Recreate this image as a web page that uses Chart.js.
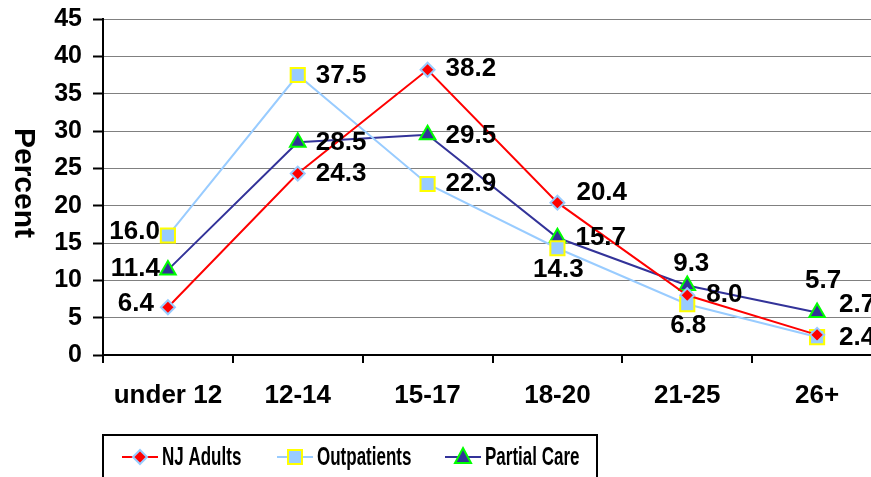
<!DOCTYPE html>
<html lang="en">
<head>
<meta charset="UTF-8">
<title>Percent by age group</title>
<style>
  html, body { margin: 0; padding: 0; overflow: hidden; background: #fff; }
</style>
</head>
<body>
<canvas id="myChart" width="894" height="500"></canvas>

<script src="https://cdn.jsdelivr.net/npm/chart.js@4/dist/chart.umd.min.js"></script>
<script>
  const ageGroups = ["under 12", "12-14", "15-17", "18-20", "21-25", "26+"];
  const njAdults = [6.4, 24.3, 38.2, 20.4, 8.0, 2.7];
  const outpatients = [16.0, 37.5, 22.9, 14.3, 6.8, 2.4];
  const partialCare = [11.4, 28.5, 29.5, 15.7, 9.3, 5.7];
  const yMin = 0, yMax = 45, yStep = 5;
  const yTitle = "Percent";

  const FONT = "'Liberation Sans', Arial, sans-serif";

  // where each value label sits relative to its point: [dx, dy, align]
  const labelPlace = [
    [[-14, -3, "right"], [18, 0, "left"], [18, -1, "left"], [19, -10, "left"], [19, 0, "left"], [22, -30, "left"]],
    [[-8, -4, "right"], [18, 1, "left"], [18, 0, "left"], [1, 22, "center"], [1, 22, "center"], [22, 1, "left"]],
    [[-8, -1, "right"], [18, 1, "left"], [18, 1, "left"], [18, 0, "left"], [4, -22, "center"], [6, -32, "center"]]
  ];

  const valueLabels = {
    id: "valueLabels",
    afterDatasetsDraw(chart) {
      const ctx = chart.ctx;
      ctx.save();
      ctx.font = "bold 26px " + FONT;
      ctx.fillStyle = "#000";
      ctx.textBaseline = "middle";
      chart.data.datasets.forEach((ds, i) => {
        const meta = chart.getDatasetMeta(i);
        meta.data.forEach((pt, j) => {
          const p = labelPlace[i][j];
          ctx.textAlign = p[2];
          ctx.fillText(ds.data[j].toFixed(1), pt.x + p[0], pt.y + p[1]);
        });
      });
      ctx.restore();
    }
  };

  function marker(ctx, ds, x, y) {
    ctx.save();
    ctx.fillStyle = ds.pointBackgroundColor;
    ctx.strokeStyle = ds.pointBorderColor;
    ctx.lineWidth = 2;
    ctx.beginPath();
    if (ds.pointStyle === "rectRot") {
      ctx.moveTo(x, y - 7); ctx.lineTo(x + 7, y); ctx.lineTo(x, y + 7); ctx.lineTo(x - 7, y);
    } else if (ds.pointStyle === "rect") {
      ctx.rect(x - 7, y - 7, 14, 14);
    } else {
      ctx.moveTo(x, y - 9); ctx.lineTo(x + 8, y + 6); ctx.lineTo(x - 8, y + 6);
    }
    ctx.closePath();
    ctx.fill();
    ctx.stroke();
    ctx.restore();
  }

  const boxLegend = {
    id: "boxLegend",
    afterDraw(chart) {
      const ctx = chart.ctx;
      const starts = [122, 277, 445];
      const ly = 457;
      ctx.save();
      ctx.strokeStyle = "#000";
      ctx.lineWidth = 2;
      ctx.strokeRect(103, 435, 494, 80);
      chart.data.datasets.forEach((ds, i) => {
        const x0 = starts[i];
        ctx.strokeStyle = ds.borderColor;
        ctx.lineWidth = 2;
        ctx.beginPath();
        ctx.moveTo(x0, ly);
        ctx.lineTo(x0 + 36, ly);
        ctx.stroke();
        marker(ctx, ds, x0 + 18, ly);
        ctx.save();
        ctx.translate(x0 + 40, ly);
        ctx.scale(0.68, 1);
        ctx.font = "bold 25px " + FONT;
        ctx.fillStyle = "#000";
        ctx.textBaseline = "middle";
        ctx.textAlign = "left";
        ctx.fillText(ds.label, 0, 1);
        ctx.restore();
      });
      // rotated axis title, reading top to bottom
      ctx.save();
      ctx.translate(23, 183);
      ctx.rotate(Math.PI / 2);
      ctx.font = "bold 30px " + FONT;
      ctx.fillStyle = "#000";
      ctx.textAlign = "center";
      ctx.textBaseline = "middle";
      ctx.fillText(yTitle, 0, 0);
      ctx.restore();
      ctx.restore();
    }
  };

  const ctx = document.getElementById("myChart").getContext("2d");
  const chart = new Chart(ctx, {
    type: "line",
    data: {
      labels: ageGroups,
      datasets: [
        {
          label: "NJ Adults",
          data: njAdults,
          borderColor: "#ff0000",
          borderWidth: 2,
          pointStyle: "rectRot",
          pointRadius: 7,
          pointBorderWidth: 2,
          pointBackgroundColor: "#ff0000",
          pointBorderColor: "#99ccff",
          fill: false,
          tension: 0
        },
        {
          label: "Outpatients",
          data: outpatients,
          borderColor: "#99ccff",
          borderWidth: 2,
          pointStyle: "rect",
          pointRadius: 10,
          pointBorderWidth: 2,
          pointBackgroundColor: "#99ccff",
          pointBorderColor: "#ffff00",
          fill: false,
          tension: 0
        },
        {
          label: "Partial Care",
          data: partialCare,
          borderColor: "#333399",
          borderWidth: 2,
          pointStyle: "triangle",
          pointRadius: 9,
          pointBorderWidth: 2,
          pointBackgroundColor: "#333399",
          pointBorderColor: "#00ff00",
          fill: false,
          tension: 0
        }
      ]
    },
    options: {
      responsive: false,
      animation: false,
      layout: { padding: { left: 0, right: 0, top: 19, bottom: 65 } },
      plugins: {
        legend: { display: false },
        tooltip: { enabled: false }
      },
      scales: {
        x: {
          offset: true,
          grid: { display: true, drawOnChartArea: false, offset: true, tickLength: 8, color: "#000", lineWidth: 2 },
          border: { color: "#000", width: 2 },
          ticks: { color: "#000", font: { family: FONT, size: 26, weight: "bold" }, padding: 17, maxRotation: 0 },
          afterFit: s => { s.height = 80; }
        },
        y: {
          min: yMin,
          max: yMax,
          grid: { color: "#808080", lineWidth: 1, tickLength: 10, tickColor: "#000", tickWidth: 2 },
          border: { color: "#000", width: 2 },
          ticks: { stepSize: yStep, color: "#000", font: { family: FONT, size: 25, weight: "bold", lineHeight: 0.6 }, padding: 11 },
          afterFit: s => { s.width = 103; }
        }
      }
    },
    plugins: [valueLabels, boxLegend]
  });
</script>
</body>
</html>
